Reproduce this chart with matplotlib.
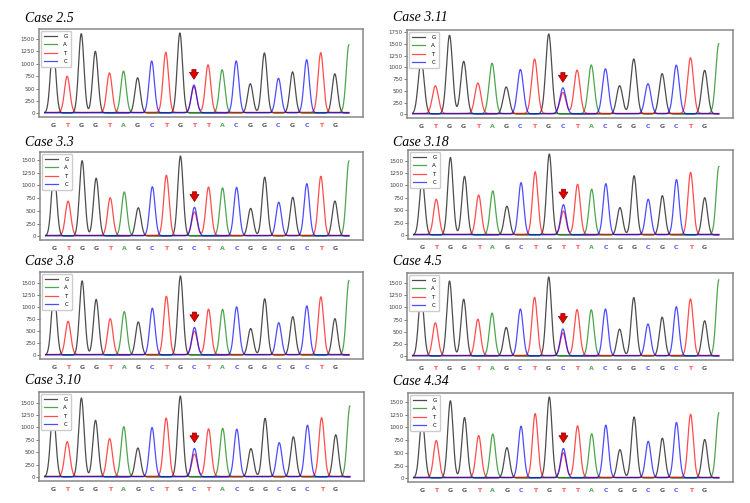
import numpy as np
import matplotlib.pyplot as plt
from matplotlib.ticker import MultipleLocator

# peak heights, one per called base (index 10 = mutation site, blue C peak),
# last entry is the green A peak cut off at the right edge
peak_bases = "GTGGTAGCTGCTACGGCGCTGA"

h_2_5 = [1350, 730, 1600, 1245, 797, 837, 710, 1045, 1212, 1614, 562, 958, 864, 1045, 590, 1212, 696, 830, 1071, 1205, 790, 1366]
h_3_11 = [1150, 590, 1678, 1123, 647, 1074, 576, 946, 1159, 1706, 555, 924, 1038, 960, 604, 1173, 640, 860, 1038, 1187, 931, 1493]
h_3_3 = [1250, 671, 1474, 1132, 737, 855, 553, 961, 1178, 1566, 559, 948, 934, 948, 540, 1152, 658, 757, 1020, 1158, 684, 1460]
h_3_18 = [1100, 706, 1555, 1175, 788, 876, 577, 1046, 1256, 1623, 604, 1005, 910, 1025, 550, 1188, 713, 788, 1107, 1243, 747, 1365]
h_3_8 = [1300, 682, 1528, 1146, 737, 887, 682, 962, 1200, 1630, 566, 934, 934, 989, 546, 1159, 662, 791, 1009, 1187, 750, 1528]
h_4_5 = [1250, 662, 1527, 1156, 737, 865, 581, 953, 1183, 1609, 548, 933, 933, 953, 548, 1190, 649, 791, 1000, 1149, 717, 1541]
h_3_10 = [1300, 696, 1582, 1136, 757, 1000, 581, 987, 1169, 1622, 568, 953, 967, 953, 568, 1176, 683, 804, 1034, 1176, 845, 1413]
h_4_34 = [1150, 720, 1513, 1183, 819, 853, 595, 1011, 1249, 1586, 575, 1011, 859, 1031, 555, 1196, 714, 780, 1084, 1236, 754, 1269]

# red T peak under the blue one at the mutation site
t_2_5, t_3_11, t_3_3, t_3_18 = 520, 448, 460, 468
t_3_8, t_4_5, t_3_10, t_4_34 = 484, 460, 446, 483

seq_T = "GTGGTAGCTGTTACGGCGCTG"
seq_C = "GTGGTAGCTGCTACGGCGCTG"

# noise floor of each channel
floor = {'G': 8, 'A': 16, 'T': 20, 'C': 12}
colors = {'G': 'k', 'A': 'g', 'T': 'r', 'C': 'b'}

# title, heights, T peak, sequence, axes box (px: left, top, right, bottom), title pos (px), peak width
panels = [
    ('Case 2.5', h_2_5, t_2_5, seq_T, (39, 29, 363, 117), (25, 22), 0.19),
    ('Case 3.11', h_3_11, t_3_11, seq_C, (407, 30, 733, 118), (393, 21), 0.21),
    ('Case 3.3', h_3_3, t_3_3, seq_C, (40, 152, 363, 240), (25, 146), 0.19),
    ('Case 3.18', h_3_18, t_3_18, seq_T, (408, 150, 733, 239), (393, 146), 0.19),
    ('Case 3.8', h_3_8, t_3_8, seq_C, (40, 272, 363, 359), (25, 265), 0.19),
    ('Case 4.5', h_4_5, t_4_5, seq_C, (407, 273, 733, 360), (393, 265), 0.19),
    ('Case 3.10', h_3_10, t_3_10, seq_C, (39, 392, 364, 481), (25, 384), 0.19),
    ('Case 4.34', h_4_34, t_4_34, seq_T, (408, 393, 733, 482), (393, 385), 0.19),
]

W, H = 750, 503
fig = plt.figure(figsize=(7.5, 5.03), dpi=100)

x = np.linspace(-0.6, 21.0, 2000)


def bump(center, height, sigma):
    return height * np.exp(-0.5 * ((x - center) / sigma) ** 2)


for title, heights, t10, seq, box, tpos, sigma in panels:
    l, t, r, b = box
    ax = fig.add_axes([l / W, 1 - b / H, (r - l) / W, (b - t) / H])
    for base in 'GATC':
        y = np.full_like(x, floor[base], dtype=float)
        for i, (pb, h) in enumerate(zip(peak_bases, heights)):
            if pb == base:
                y += bump(i, h, sigma)
        if base == 'T':
            y += bump(10, t10, sigma)
        ax.plot(x, y, color=colors[base], alpha=0.7, lw=0.9, label=base)

    # red arrow over the mutation peak
    ax.annotate('', xy=(10, heights[10] + 70), xytext=(0, 11), textcoords='offset points',
                arrowprops=dict(arrowstyle='simple,head_width=0.65,head_length=0.5,tail_width=0.3',
                                fc='#e00000', ec='#8a0000', lw=0.5))

    ax.set_xlim(-1, 22)
    ax.margins(y=0.05)
    ax.yaxis.set_major_locator(MultipleLocator(250))
    ax.tick_params(axis='y', labelsize=4, length=2, width=0.5, pad=1, colors='#444444')
    ax.set_xticks(range(len(seq)))
    ax.set_xticklabels(list(seq))
    ax.tick_params(axis='x', length=0, pad=4)
    for lab, ch in zip(ax.get_xticklabels(), seq):
        lab.set_color(colors[ch])
        lab.set_alpha(0.65)
        lab.set_fontsize(4.5)
        lab.set_fontweight('bold')
    for sp in ax.spines.values():
        sp.set_color('#888888')
        sp.set_linewidth(1.1)
    ax.legend(loc='upper left', fontsize=4, handlelength=2.4, handletextpad=1.1,
              borderpad=0.6, labelspacing=0.6, framealpha=1, borderaxespad=0.3)

    fig.text(tpos[0] / W, 1 - tpos[1] / H, title, fontsize=10, style='italic',
             family='Liberation Serif', va='baseline', ha='left')

plt.savefig('out.png', dpi=100)
